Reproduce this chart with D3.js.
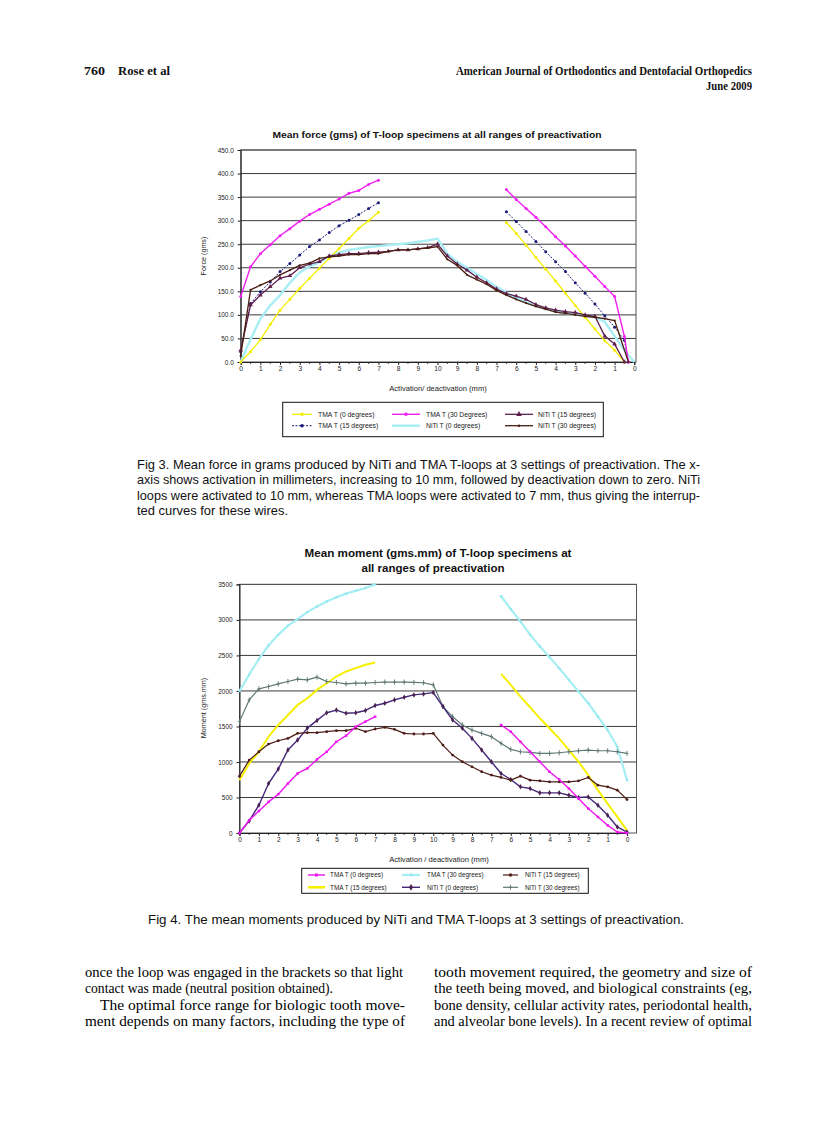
<!DOCTYPE html>
<html><head><meta charset="utf-8">
<script src="https://cdn.jsdelivr.net/npm/d3@7"></script>
<style>body{margin:0;background:#fff}svg{display:block}</style>
</head><body>
<svg id="page" width="838" height="1122"></svg>
<script>
// ---------- DATA ----------
const xTickLabels = ["0","1","2","3","4","5","6","7","8","9","10","9","8","7","6","5","4","3","2","1","0"];
const forceTicks = [0,50,100,150,200,250,300,350,400,450];
const momentTicks = [0,500,1000,1500,2000,2500,3000,3500];

// Fig 3 – force (gms); activation from position 0, deactivation from given start, step 0.5
const fTMA0Act   = [0,22,47,80,110,133,156,178,199,220,241,262,284,300,318];
const fTMA0Deact = [296,273,248,222,197,172,146,120,95,70,45,25,0];
const fTMA15Act  = [22,124,149,170,192,209,227,245,259,275,289,301,313,326,338];
const fTMA15Deact= [319,298,277,256,234,213,192,168,146,123,98,74,46,0];
const fTMA30Act  = [139,202,230,249,268,283,299,313,324,335,346,358,364,377,386];
const fTMA30Deact= [366,345,326,307,287,266,246,225,203,182,160,139,54,0];
const fNiTi0Act  = [0,48,92,120,142,168,190,203,212,225,232,238,241,244,246,248,250,252,255,258,262];
const fNiTi0Deact= [230,213,200,187,174,160,147,136,127,119,113,108,104,101,98,95,85,55,25,0];
const fNiTi15Act = [25,121,142,160,178,183,200,208,213,225,228,230,230,232,233,235,238,238,240,243,250];
const fNiTi15Deact=[225,208,195,180,168,155,145,140,133,122,115,110,107,105,100,97,55,38,0];
const fNiTi30Act = [13,153,163,172,185,195,205,210,220,223,225,228,228,230,230,235,238,238,240,242,245];
const fNiTi30Deact=[218,205,185,175,165,152,142,133,125,118,112,106,103,100,97,95,92,88,0];

// Fig 4 – moment (gms.mm)
const mTMA0Act   = [0,179,311,438,546,697,838,909,1036,1144,1285,1370,1497,1568,1638];
const mTMA0Deact = [1521,1426,1285,1144,1003,862,753,626,485,344,226,108,14,0];
const mTMA15Act  = [744,979,1144,1356,1521,1662,1803,1897,2015,2109,2203,2274,2321,2368,2401];
const mTMA15Deact= [2241,2086,1921,1770,1615,1474,1332,1168,1003,815,603,414,226,38];
const mTMA30Act  = [2000,2230,2450,2640,2790,2920,3010,3110,3190,3260,3320,3370,3410,3450,3500];
const mTMA30Deact= [3333,3154,2980,2792,2627,2476,2321,2156,1991,1827,1638,1450,1215,744];
const mNiTi0Act  = [0,170,391,697,900,1170,1310,1477,1585,1693,1730,1685,1693,1725,1795,1827,1874,1911,1944,1958,1977];
const mNiTi0Deact= [1780,1591,1474,1332,1168,1003,838,753,650,626,565,565,565,532,499,508,391,250,85,14];
const mNiTi15Act = [800,1026,1144,1252,1299,1332,1403,1412,1412,1427,1441,1441,1474,1427,1464,1488,1459,1403,1394,1394,1403];
const mNiTi15Deact=[1238,1097,1003,932,862,815,782,744,800,744,734,720,720,720,734,782,673,650,603,471];
const mNiTi30Act = [1568,1874,2029,2062,2100,2133,2166,2156,2194,2133,2119,2100,2109,2109,2119,2125,2125,2125,2120,2115,2086];
const mNiTi30Deact=[1780,1638,1521,1450,1403,1356,1262,1177,1144,1135,1120,1120,1130,1144,1158,1168,1158,1158,1144,1120];

// ---------- HELPERS ----------
function seg(vals, start, endPos){
  return vals.map((v,i)=>({x:(endPos!=null && i===vals.length-1)?endPos:start+i*0.5, y:v}));
}
const svg = d3.select("#page");
svg.append("rect").attr("width",838).attr("height",1122).attr("fill","#fff");

function text(x,y,str,opt={}){
  const t = svg.append("text").attr("x",x).attr("y",y).text(str)
    .attr("font-family",opt.family||"'Liberation Sans',Arial,sans-serif")
    .attr("font-size",opt.size||10).attr("fill",opt.fill||"#111");
  if(opt.weight) t.attr("font-weight",opt.weight);
  if(opt.anchor) t.attr("text-anchor",opt.anchor);
  if(opt.len){ t.attr("textLength",opt.len).attr("lengthAdjust",opt.adjust||"spacing"); }
  if(opt.rotate!=null) t.attr("transform",`rotate(${opt.rotate},${x},${y})`);
  return t;
}

function drawMarker(g, type, x, y, color, size){
  if(!type) return;
  if(type==="circle"){
    g.append("circle").attr("cx",x).attr("cy",y).attr("r",size||1.6).attr("fill",color);
  } else if(type==="plus"){
    g.append("path").attr("d",`M${x},${y-2.6}V${y+2.6}M${x-1.6},${y}H${x+1.6}`).attr("stroke",color).attr("stroke-width",0.9);
  } else {
    const sym = {triangle:d3.symbolTriangle, square:d3.symbolSquare, diamond:d3.symbolDiamond}[type];
    g.append("path").attr("d",d3.symbol().type(sym).size(size||10)())
      .attr("transform",`translate(${x},${y})`).attr("fill",color);
  }
}

function drawChart(cfg){
  const x = d3.scaleLinear().domain([0,20]).range([cfg.x0,cfg.x1]);
  const y = d3.scaleLinear().domain([0,cfg.ymax]).range([cfg.yBottom,cfg.yTop]);
  const g = svg.append("g");
  g.selectAll("line.grid").data(cfg.ticks.filter(d=>d>0)).enter().append("line")
    .attr("x1",cfg.x0).attr("x2",cfg.boxRight).attr("y1",d=>y(d)).attr("y2",d=>y(d))
    .attr("stroke","#3a3a3a").attr("stroke-width",1);
  g.append("rect").attr("x",cfg.x0).attr("y",cfg.yTop).attr("width",cfg.boxRight-cfg.x0)
    .attr("height",cfg.yBottom-cfg.yTop).attr("fill","none").attr("stroke","#555").attr("stroke-width",1);
  const ya = g.append("g").attr("transform",`translate(${cfg.x0},0)`)
    .call(d3.axisLeft(y).tickValues(cfg.ticks).tickSize(3).tickFormat(cfg.fmt));
  ya.select(".domain").attr("stroke","#222");
  ya.selectAll("text").attr("font-family","'Liberation Sans',Arial,sans-serif").attr("font-size",6.4).attr("fill","#222").attr("dx",-1);
  ya.selectAll("line").attr("stroke","#222");
  const xa = g.append("g").attr("transform",`translate(0,${cfg.yBottom})`)
    .call(d3.axisBottom(x).tickValues(d3.range(0,21,1)).tickSize(3).tickFormat((d,i)=>xTickLabels[i]));
  xa.select(".domain").attr("stroke","#222");
  xa.selectAll("text").attr("font-family","'Liberation Sans',Arial,sans-serif").attr("font-size",6.6).attr("fill","#222").attr("dy","0.45em");
  xa.selectAll("line").attr("stroke","#222");
  g.selectAll("line.minor").data(d3.range(0.5,20,1)).enter().append("line")
    .attr("x1",d=>x(d)).attr("x2",d=>x(d)).attr("y1",cfg.yBottom).attr("y2",cfg.yBottom+2)
    .attr("stroke","#222").attr("stroke-width",0.8);
  const line = d3.line().x(d=>x(d.x)).y(d=>y(d.y));
  cfg.series.forEach(s=>{
    const sg = g.append("g");
    s.segs.forEach(pts=>{
      sg.append("path").attr("d",line(pts)).attr("fill","none").attr("stroke",s.color)
        .attr("stroke-width",s.width||1.2).attr("stroke-dasharray",s.dash||null).attr("stroke-linejoin","round");
      if(s.marker) pts.forEach(p=>drawMarker(sg,s.marker,x(p.x),y(p.y),s.mcolor||s.color,s.msize));
    });
  });
  cfg.titles.forEach(t=>text(t.x,t.y,t.s,{size:t.size,weight:"bold",anchor:"middle",len:t.len,adjust:"spacingAndGlyphs"}));
  text(cfg.xTitle.x,cfg.xTitle.y,cfg.xTitle.s,{size:7.6,anchor:"middle",fill:"#222"});
  text(cfg.yTitle.x,cfg.yTitle.y,cfg.yTitle.s,{size:7.2,anchor:"middle",rotate:-90,fill:"#222"});
  const L = cfg.legend;
  g.append("rect").attr("x",L.x).attr("y",L.y).attr("width",L.w).attr("height",L.h)
    .attr("fill","#fff").attr("stroke","#111").attr("stroke-width",1);
  L.order.forEach((si,k)=>{
    const s = cfg.series[si];
    const col = k%3, row = Math.floor(k/3);
    const yy = L.rows[row];
    const [sx0,sx1,tx] = L.cols[col];
    g.append("line").attr("x1",sx0).attr("x2",sx1).attr("y1",yy).attr("y2",yy)
      .attr("stroke",s.color).attr("stroke-width",s.legendWidth||s.width||1.2).attr("stroke-dasharray",s.dash||null);
    if(s.marker) drawMarker(g,s.marker,(sx0+sx1)/2,yy,s.mcolor||s.color,(s.msize||1.6)*(s.marker==="circle"?1.2:1.5));
    text(tx,yy+2.3,s.name,{size:L.fs,fill:"#222"});
  });
}

// ---------- PAGE HEADER ----------
const serif = "'Liberation Serif','Times New Roman',serif";
text(84,75,"760",{family:serif,size:12,weight:"bold",len:21,adjust:"spacingAndGlyphs"});
text(118,75,"Rose et al",{family:serif,size:12,weight:"bold",len:52,adjust:"spacingAndGlyphs"});
text(752,75,"American Journal of Orthodontics and Dentofacial Orthopedics",{family:serif,size:11.5,weight:"bold",anchor:"end",len:296,adjust:"spacingAndGlyphs"});
text(752,90,"June 2009",{family:serif,size:11.5,weight:"bold",anchor:"end",len:46,adjust:"spacingAndGlyphs"});

// ---------- FIG 3 ----------
drawChart({
  x0:240.7, x1:634.3, boxRight:636, yTop:150, yBottom:362, ymax:450,
  ticks:forceTicks, fmt:d=>d3.format(".1f")(d),
  titles:[{x:437,y:138,s:"Mean force (gms) of T-loop specimens at all ranges of preactivation",size:8.8,len:329}],
  xTitle:{x:438,y:391,s:"Activation/ deactivation (mm)"},
  yTitle:{x:206,y:256,s:"Force (gms)"},
  series:[
    {name:"NiTi T (0 degrees)", color:"#a8eef6", width:2.4, legendWidth:2.4, marker:null,
      segs:[seg(fNiTi0Act.concat(fNiTi0Deact),0)]},
    {name:"TMA T (0 degrees)", color:"#f4ee00", width:1.3, marker:"circle", msize:1.5,
      segs:[seg(fTMA0Act,0), seg(fTMA0Deact,13.5)]},
    {name:"TMA T (15 degrees)", color:"#1c1c78", width:1, dash:"2,1.5", marker:"circle", msize:1.5,
      segs:[seg(fTMA15Act,0), seg(fTMA15Deact,13.5,19.7)]},
    {name:"TMA T (30 Degrees)", color:"#f020f0", width:1.4, marker:"circle", msize:1.5,
      segs:[seg(fTMA30Act,0), seg(fTMA30Deact,13.5,19.7)]},
    {name:"NiTi T (15 degrees)", color:"#5e1f4e", width:1.3, marker:"triangle", msize:9,
      segs:[seg(fNiTi15Act.concat(fNiTi15Deact),0)]},
    {name:"NiTi T (30 degrees)", color:"#4a1e12", width:1.3, marker:"circle", msize:1.1,
      segs:[seg(fNiTi30Act.concat(fNiTi30Deact),0,19.7)]}
  ],
  legend:{x:282.7,y:402.3,w:320.6,h:34.4,rows:[414.3,425.7],fs:6.8,
    cols:[[292,312,318],[392,420,426],[505,533,538]], order:[1,3,4,2,0,5]}
});

// ---------- FIG 3 CAPTION ----------
const capFont = "'Liberation Sans',Arial,sans-serif";
const cap3 = ["Fig 3.  Mean force in grams produced by NiTi and TMA T-loops at 3 settings of preactivation. The x-",
  "axis shows activation in millimeters, increasing to 10 mm, followed by deactivation down to zero. NiTi",
  "loops were activated to 10 mm, whereas TMA loops were activated to 7 mm, thus giving the interrup-",
  "ted curves for these wires."];
const cap3Len = [563,563,563,151];
cap3.forEach((s,i)=>text(137,468.5+i*15.6,s,{family:capFont,size:12.4,fill:"#111",len:cap3Len[i],adjust:"spacingAndGlyphs"}));

// ---------- FIG 4 ----------
drawChart({
  x0:239.5, x1:627, boxRight:636.5, yTop:584.4, yBottom:833, ymax:3500,
  ticks:momentTicks, fmt:d=>String(d),
  titles:[{x:438,y:556.5,s:"Mean moment (gms.mm) of T-loop specimens at",size:10,len:267},
          {x:433,y:571.5,s:"all ranges of preactivation",size:10,len:143}],
  xTitle:{x:439,y:862,s:"Activation / deactivation (mm)"},
  yTitle:{x:206,y:708,s:"Moment (gms.mm)"},
  series:[
    {name:"TMA T (30 degrees)", color:"#a4eef4", width:2.2, marker:"circle", msize:1.2, mcolor:"#8fe6ef",
      segs:[seg(mTMA30Act,0), seg(mTMA30Deact,13.5)]},
    {name:"TMA T (15 degrees)", color:"#f6f000", width:2, marker:null, legendWidth:2.6,
      segs:[seg(mTMA15Act,0), seg(mTMA15Deact,13.5)]},
    {name:"NiTi T (30 degrees)", color:"#5d7775", width:1.2, marker:"plus", mcolor:"#5d7775",
      segs:[seg(mNiTi30Act.concat(mNiTi30Deact),0)]},
    {name:"NiTi T (0 degrees)", color:"#45287a", width:1.4, marker:"diamond", msize:9, mcolor:"#4a2250",
      segs:[seg(mNiTi0Act.concat(mNiTi0Deact),0)]},
    {name:"NiTi T (15 degrees)", color:"#4e1c16", width:1.2, marker:"circle", msize:1.4,
      segs:[seg(mNiTi15Act.concat(mNiTi15Deact),0)]},
    {name:"TMA T (0 degrees)", color:"#ee14ee", width:1.4, marker:"square", msize:6,
      segs:[seg(mTMA0Act,0), seg(mTMA0Deact,13.5)]}
  ],
  legend:{x:301.7,y:868.3,w:286.6,h:25,rows:[875,887.3],fs:6.4,
    cols:[[308,325,330],[402,420,427],[503,518,525]], order:[5,0,4,1,3,2]}
});

// ---------- FIG 4 CAPTION ----------
text(148,923.5,"Fig 4.  The mean moments produced by NiTi and TMA T-loops at 3 settings of preactivation.",{family:capFont,size:12.4,fill:"#111",len:536,adjust:"spacingAndGlyphs"});

// ---------- BODY TEXT ----------
const leftCol = [
  {s:"once the loop was engaged in the brackets so that light", x:85, len:318},
  {s:"contact was made (neutral position obtained).", x:85, len:248},
  {s:"The optimal force range for biologic tooth move-", x:100, len:305},
  {s:"ment depends on many factors, including the type of", x:85, len:320}];
const rightCol = [
  {s:"tooth movement required, the geometry and size of", x:434, len:318},
  {s:"the teeth being moved, and biological constraints (eg,", x:434, len:318},
  {s:"bone density, cellular activity rates, periodontal health,", x:434, len:318},
  {s:"and alveolar bone levels). In a recent review of optimal", x:434, len:318}];
[leftCol,rightCol].forEach(col=>col.forEach((l,i)=>
  text(l.x,977+i*16.3,l.s,{family:serif,size:14,fill:"#000",len:l.len,adjust:"spacingAndGlyphs"})));
</script></body></html>
